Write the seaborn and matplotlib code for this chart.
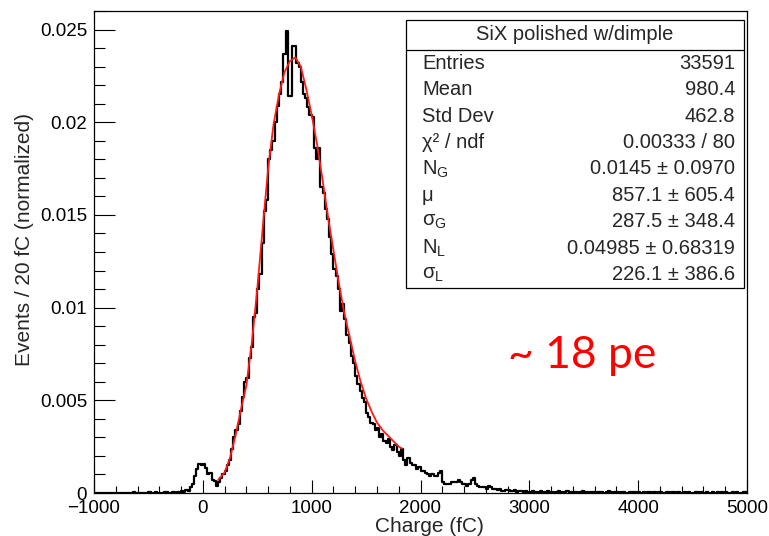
import numpy as np
import pandas as pd
import matplotlib
matplotlib.use("Agg")
import matplotlib.pyplot as plt
import seaborn as sns
from matplotlib.patches import Rectangle
from matplotlib.lines import Line2D
from matplotlib.ticker import MultipleLocator

# ---------------- data ----------------
bin_start = -1000   # fC
bin_end = 5000      # fC
bin_width = 20      # fC

# normalized counts per 20 fC bin, in units of 1e-4
counts_left = [0, 0, 0, 0, 0, 0, 0, 0, 0, 0,
               0, 0, 0, 0, 0, 0, 0, 0, 0.5, 0,
               0, 0, 0, 0, 0, 0.5, 0, 0, 0.5, 0,
               0, 0, 0.5, 0.5, 0]                      # -1000 .. -320
counts_main = [0, 0.5, 0, 0.5, 0, 1, 0.5, 1.5, 1, 3,     # -300 .. -120
               5, 9, 13, 15.5, 15, 15.5, 13.5, 10, 11, 7,  # -100 .. 80
               6.5, 4, 6, 8, 10, 12, 15, 18, 24, 30,     # 100 .. 280
               34, 37, 44, 52, 60, 62, 73, 79, 95, 97,   # 300 .. 480
               110, 118, 135, 152, 158, 180, 185, 190, 200, 209,  # 500 .. 680
               215, 222, 237, 249, 214, 214, 241, 241, 232, 230,  # 700 .. 880
               222, 215, 213, 208, 204, 203, 186, 180, 186, 165,  # 900 .. 1080
               162, 153, 148, 138, 129, 121, 117, 110, 98, 102,   # 1100 .. 1280
               94, 85, 81, 74, 70, 63, 59, 55, 51, 49,   # 1300 .. 1480
               43, 41, 38, 37, 34, 35, 30, 32, 28, 27,   # 1500 .. 1680
               29, 25, 23, 26, 22, 20, 24, 18, 15, 19,   # 1700 .. 1880
               16, 15, 15, 13, 14, 12, 12, 11, 10, 9,    # 1900 .. 2080
               10, 9, 9, 11, 12, 6, 5, 5, 5, 6,          # 2100 .. 2280
               6, 6, 7, 6, 5, 5, 4, 5, 7, 8,             # 2300 .. 2480
               5, 4, 3, 3, 3, 2, 4, 3, 2, 2,             # 2500 .. 2680
               1.5, 2, 1, 1, 1.5, 1.5, 1, 1, 1.5, 0.5,   # 2700 .. 2880
               1, 1, 0.5, 1, 0.5]                        # 2900 .. 2980
counts_tail = [0.5, 1, 0.5, 0.5, 0, 1, 0.5, 0.5, 1, 0.5,
               0.5, 0, 0.5, 1, 0.5, 0.5, 0.5, 1, 0, 0.5,
               0.5, 0.5, 0, 0.5, 1, 0.5, 0.5, 0, 0.5, 0.5,
               0, 0.5, 0.5, 0.5, 0, 0.5, 1, 0.5, 0, 0.5,
               0.5, 0, 0.5, 0.5, 0, 0, 0.5, 0.5, 0.5, 0,
               0.5, 0, 0.5, 0, 0.5, 0.5, 0, 0.5, 0, 0.5,
               0.5, 0, 0, 0.5, 0, 0.5, 0.5, 0, 0.5, 0,
               0, 0.5, 0, 0.5, 0, 0, 0.5, 0.5, 0, 0.5,
               0, 0.5, 0, 0, 0.5, 0, 0.5, 0, 0.5, 0,
               0.5, 0, 0, 0.5, 0, 0.5, 0, 0, 0.5, 0.5]  # 3000 .. 4980

# fit curve (red)
fit_x = [140, 200, 250, 300, 350, 400, 450, 500, 550, 600, 650, 700, 750, 800,
         850, 900, 950, 1000, 1050, 1100, 1150, 1200, 1250, 1300, 1350, 1400,
         1450, 1500, 1550, 1600, 1650, 1700, 1750, 1800, 1830]
fit_y = [0.0007, 0.0011, 0.0019, 0.0031, 0.0045, 0.0058, 0.0081, 0.0110,
         0.0143, 0.0175, 0.0199, 0.0215, 0.0227, 0.0233, 0.0235, 0.0230,
         0.0218, 0.0204, 0.0188, 0.0169, 0.0149, 0.0131, 0.0113, 0.0097,
         0.0084, 0.0071, 0.0060, 0.0051, 0.0044, 0.0038, 0.0034, 0.0031,
         0.0028, 0.0025, 0.0024]

x_ticks = [-1000, 0, 1000, 2000, 3000, 4000, 5000]
x_tick_labels = ["\u22121000", "0", "1000", "2000", "3000", "4000", "5000"]
y_ticks = [0, 0.005, 0.01, 0.015, 0.02, 0.025]
y_tick_labels = ["0", "0.005", "0.01", "0.015", "0.02", "0.025"]

stats_title = "SiX polished w/dimple"
stats_names = ["Entries", "Mean", "Std Dev", "\u03c7\u00b2 / ndf", "N$_{\\rm G}$",
               "\u03bc", "\u03c3$_{\\rm G}$", "N$_{\\rm L}$", "\u03c3$_{\\rm L}$"]
stats_values = ["33591", "980.4", "462.8", "0.00333 / 80", "0.0145 \u00b1 0.0970",
                "857.1 \u00b1 605.4", "287.5 \u00b1 348.4", "0.04985 \u00b1 0.68319",
                "226.1 \u00b1 386.6"]
annotation = "~ 18 pe"

# ---------------- build table ----------------
counts = np.array(counts_left + counts_main + counts_tail, dtype=float) * 1e-4
centers = bin_start + bin_width * (np.arange(len(counts)) + 0.5)
hist_df = pd.DataFrame({"charge": centers, "w": counts})
fit_df = pd.DataFrame({"charge": fit_x, "val": fit_y})

# ---------------- style ----------------
sns.set_style("ticks")
plt.rcParams["font.family"] = ["Liberation Sans", "DejaVu Sans"]
plt.rcParams["mathtext.fontset"] = "custom"
plt.rcParams["mathtext.rm"] = "Liberation Sans"
plt.rcParams["mathtext.it"] = "Liberation Sans:italic"

W, H = 769, 536
fig = plt.figure(figsize=(W / 100, H / 100), dpi=100)
fig.patch.set_facecolor("white")
ax_l, ax_r, ax_t, ax_b = 94, 747, 10.7, 493
ax = fig.add_axes([ax_l / W, 1 - ax_b / H, (ax_r - ax_l) / W, (ax_b - ax_t) / H])

sns.histplot(data=hist_df, x="charge", weights="w", binwidth=bin_width,
             binrange=(bin_start, bin_end), element="step",
             fill=False, color="black", linewidth=1.6, ax=ax)
sns.lineplot(data=fit_df, x="charge", y="val", color="#ff1a1a", linewidth=1.3,
             ax=ax, sort=True)

ax.set_xlim(-1000, 5000)
ax.set_ylim(0, 0.02602)
ax.set_xticks(x_ticks)
ax.set_xticklabels(x_tick_labels)
ax.set_yticks(y_ticks)
ax.set_yticklabels(y_tick_labels)
ax.xaxis.set_minor_locator(MultipleLocator(200))
ax.yaxis.set_minor_locator(MultipleLocator(0.001))
ax.tick_params(axis="both", which="both", direction="in", labelsize=13.5,
               colors="black", top=False, right=False)
ax.tick_params(axis="x", which="major", length=9.5, width=0.8, pad=5)
ax.tick_params(axis="x", which="minor", length=5, width=0.8)
ax.tick_params(axis="y", which="major", length=15, width=0.8, pad=5)
ax.tick_params(axis="y", which="minor", length=8, width=0.8)
for s in ax.spines.values():
    s.set_visible(True)
    s.set_linewidth(0.9)
    s.set_color("black")

ax.set_xlabel("Charge (fC)", fontsize=15)
ax.set_ylabel("Events / 20 fC (normalized)", fontsize=15)
ax.xaxis.set_label_coords((429 - ax_l) / (ax_r - ax_l), (ax_b - 527) / (ax_b - ax_t))
ax.xaxis.label.set_va("center")
ax.yaxis.set_label_coords((25 - ax_l) / (ax_r - ax_l), (ax_b - 240) / (ax_b - ax_t))
ax.yaxis.label.set_va("center")

# stats box
bx0, bx1, by0, by1, bsep = 406, 744, 20, 288, 50
fig.add_artist(Rectangle((bx0 / W, 1 - by1 / H), (bx1 - bx0) / W, (by1 - by0) / H,
                         transform=fig.transFigure, facecolor="white",
                         edgecolor="black", linewidth=0.9, zorder=5))
fig.add_artist(Line2D([bx0 / W, bx1 / W], [1 - bsep / H, 1 - bsep / H],
                      transform=fig.transFigure, color="black", linewidth=0.9, zorder=6))
fig.text((bx0 + bx1) / 2 / W, 1 - 34 / H, stats_title, ha="center", va="center",
         fontsize=14.5, zorder=7)
row_h = (by1 - bsep) / len(stats_names)
for i, (n, v) in enumerate(zip(stats_names, stats_values)):
    yc = 1 - (bsep + row_h * (i + 0.5)) / H
    fig.text(422 / W, yc, n, ha="left", va="center", fontsize=14.5, zorder=7)
    fig.text(735 / W, yc, v, ha="right", va="center", fontsize=14.5, zorder=7)

fig.text(582 / W, 1 - 355 / H, annotation, ha="center", va="center",
         fontsize=32, color="#ff0000", family=["Lato", "DejaVu Sans"])

fig.savefig("out.png", dpi=100)
